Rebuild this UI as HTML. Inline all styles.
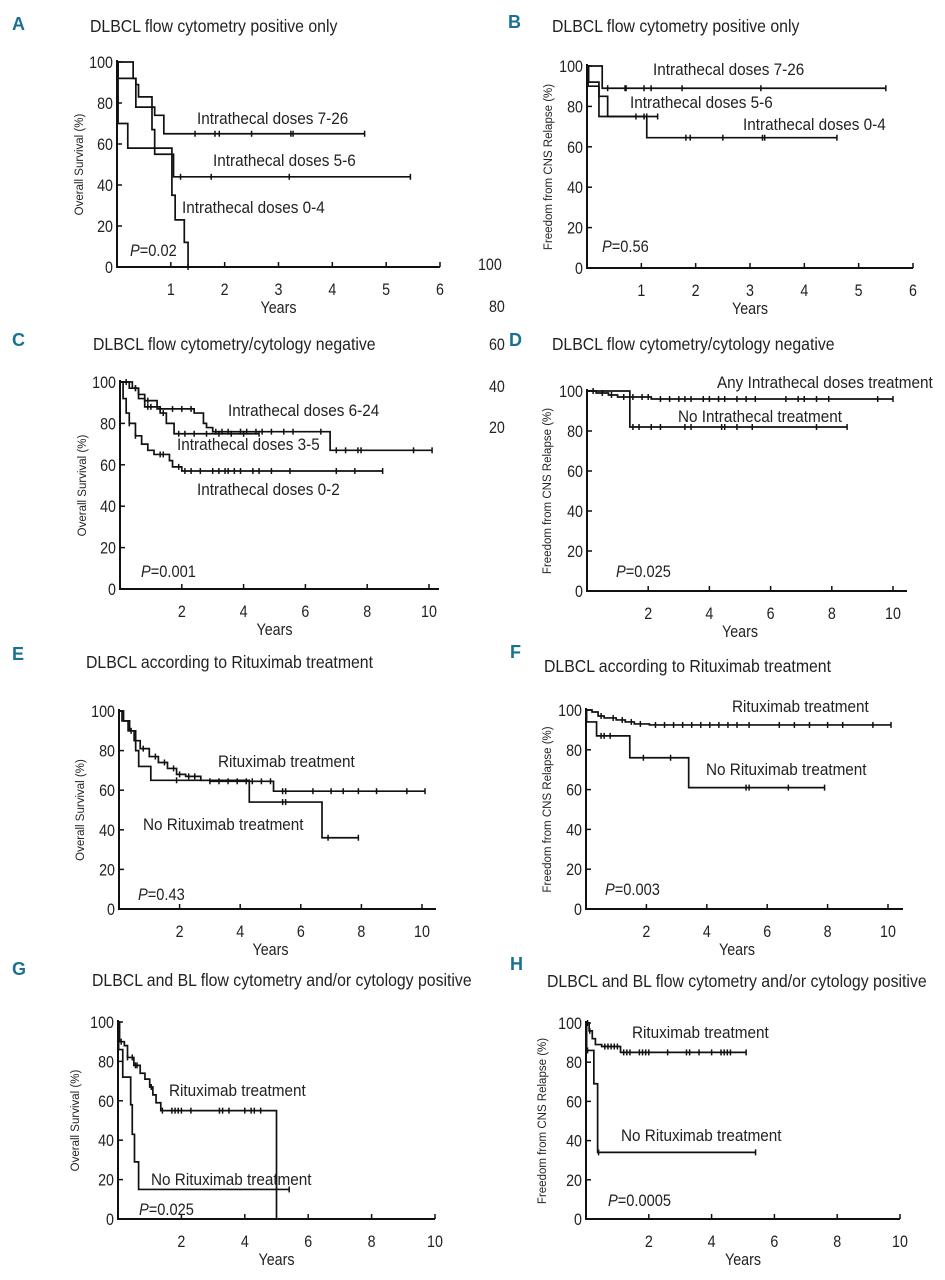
<!DOCTYPE html>
<html><head><meta charset="utf-8"><style>
html,body{margin:0;padding:0;background:#fff;}
svg{display:block;}
text{font-family:"Liberation Sans Narrow","Liberation Sans",sans-serif;fill:#222;}
.letter{font-family:"Liberation Sans",sans-serif;font-weight:bold;fill:#1a7090;font-size:18px;}
.title{font-size:18px;}
.tick{font-size:17px;}
.lab{font-size:17px;}
.yl{font-size:11.5px;font-family:"Liberation Sans",sans-serif;}
</style></head><body>
<svg id="fig" width="945" height="1280" viewBox="0 0 945 1280" xmlns="http://www.w3.org/2000/svg"></svg>
<script>
// ---- data (years, survival %) ----
const yTicks = [0,20,40,60,80,100];
const xTicksA = [1,2,3,4,5,6];
const xTicksC = [2,4,6,8,10];

const aT1 = [0,0.3,0.35,0.4,0.65,0.7,0.87]; const aS1 = [100,92,89,83,78,74,65]; const aC1 = [1.45,1.82,1.9,2.5,3.23,3.27,4.6];
const aT2 = [0,0.02,0.35,0.65,0.7,1.05]; const aS2 = [100,92,78,67,55,44]; const aC2 = [1.18,1.75,3.2,5.45];
const aT3 = [0,0.02,0.2,1.02,1.08,1.25,1.32]; const aS3 = [100,70,58,35,23,12,0]; const aC3 = [1.32];

const bT1 = [0,0.28]; const bS1 = [100,89]; const bC1 = [0.38,0.7,0.72,1.05,1.18,1.75,3.2,5.5];
const bT2 = [0,0.03,0.22,0.38]; const bS2 = [100,92,85,75]; const bC2 = [0.9,1.05,1.1,1.3];
const bT3 = [0,0.02,0.22,1.1]; const bS3 = [100,90,75,64.5]; const bC3 = [1.82,1.9,2.5,3.23,3.27,4.6];

const cT1 = [0,0.4,0.6,0.8,1.2,2.4,2.7,2.8,3.0,6.8]; const cS1 = [100,97,94,91,87,85,80,78,76,67]; const cC1 = [0.5,0.9,1.3,1.7,2.0,2.3,3.1,3.3,3.5,3.9,4.1,4.4,4.6,4.9,5.3,5.6,6.5,7.0,7.3,7.7,7.8,9.5,10.1];
const cT2 = [0,0.3,0.6,0.8,1.3,1.5,1.75]; const cS2 = [100,97,92,88,85,80,75]; const cC2 = [0.2,0.5,0.9,1.0,1.4,1.9,2.1,2.4,2.8,3.2,3.6,4.0,4.5];
const cT3 = [0,0.1,0.2,0.3,0.5,0.7,0.9,1.1,1.6,1.7,2.0]; const cS3 = [100,92,85,80,74,70,67,65,62,59,57]; const cC3 = [0.3,0.5,1.3,1.4,1.9,2.1,2.3,2.6,3.0,3.2,3.4,3.5,3.7,3.9,4.3,4.5,4.9,5.5,7.0,7.6,8.5];

const dT1 = [0,0.3,0.7,1.0,2.1]; const dS1 = [100,99,98,97,96]; const dC1 = [0.2,0.5,0.8,1.2,1.5,1.8,2.0,2.4,2.7,3.0,3.2,3.4,3.8,4.0,4.3,4.5,4.9,5.2,5.5,6.5,6.9,7.1,7.5,7.9,9.5,10.0];
const dT2 = [0,1.4]; const dS2 = [100,82]; const dC2 = [1.5,1.7,2.1,2.4,3.2,3.4,4.4,4.5,4.9,5.4,7.5,8.5];

const eT1 = [0,0.1,0.3,0.5,0.7,1.0,1.3,1.6,1.9,2.2,2.7,3.0,5.1]; const eS1 = [100,95,90,85,81,77,74,71,68,67,65,64.5,59.5]; const eC1 = [0.4,0.8,1.2,1.5,1.8,2.0,2.3,2.5,3.0,3.3,3.6,3.9,4.2,4.4,4.7,5.0,5.4,5.5,6.4,7.0,7.4,7.9,8.5,9.5,10.1];
const eT2 = [0,0.15,0.35,0.55,0.65,1.05,4.3,6.7]; const eS2 = [100,95,90,80,72,65,54,36]; const eC2 = [1.9,5.4,5.5,6.9,7.9];

const fT1 = [0,0.2,0.4,0.6,1.0,1.3,1.6,2.1]; const fS1 = [100,99,97,96,95,94,93,92.5]; const fC1 = [0.5,0.9,1.2,1.5,1.8,2.3,2.6,2.9,3.2,3.5,3.8,4.1,4.4,4.7,5.0,5.4,6.4,6.9,7.4,8.0,8.5,9.5,10.1];
const fT2 = [0,0.02,0.35,1.45,3.4]; const fS2 = [100,94,87,76,61]; const fC2 = [0.5,0.6,0.8,1.9,2.8,5.3,5.4,6.7,7.9];

const gT1 = [0,0.05,0.2,0.3,0.5,0.7,0.85,1.0,1.1,1.2,1.35,5.0]; const gS1 = [100,90,88,82,78,74,71,67,63,59,55,0]; const gC1 = [0.1,0.3,0.45,0.55,0.6,1.05,1.4,1.7,1.8,1.9,2.0,2.3,3.2,3.3,3.5,4.0,4.2,4.3,4.5];
const gT2 = [0,0.02,0.15,0.4,0.45,0.52,0.65]; const gS2 = [100,86,72,58,43,29,15]; const gC2 = [5.4];

const hT1 = [0,0.1,0.2,0.3,0.5,1.1]; const hS1 = [100,96,92,89,88,85]; const hC1 = [0.05,0.12,0.6,0.7,0.8,0.9,1.0,1.2,1.3,1.4,1.7,1.8,1.9,2.0,2.6,3.2,3.3,3.6,4.0,4.3,4.4,4.5,4.6,5.1];
const hT2 = [0,0.02,0.25,0.37]; const hS2 = [100,86,69,34]; const hC2 = [0.05,0.4,5.4];

const svg = document.getElementById('fig');
const NS = 'http://www.w3.org/2000/svg';
function el(tag, attrs, parent){const e=document.createElementNS(NS,tag);for(const k in attrs)e.setAttribute(k,attrs[k]);(parent||svg).appendChild(e);return e;}
function narrow(e,x,f){e.setAttribute('transform',`translate(${x},0) scale(${f},1) translate(${-x},0)`);}
function txt(x,y,s,cls,parent,anchor){const t=el('text',{x:x,y:y,class:cls},parent);if(anchor)t.setAttribute('text-anchor',anchor);t.textContent=s;
  if(cls==='title')narrow(t,x,0.88);else if(cls==='lab')narrow(t,x,0.9);else if(cls==='tick')narrow(t,x,0.84);return t;}
function stepVal(T,S,t){let v=S[0];for(let i=0;i<T.length;i++){if(T[i]<=t)v=S[i];}return v;}

function panel(p){
  const g=el('g',{});
  
  
  const sx=t=>p.x0+(t/p.xmax)*(p.x1-p.x0);
  const sy=v=>p.y0-(v/100)*(p.y0-p.y100);
  const L=txt(p.lx,p.ly,p.letter,'letter',g);
  
  
  const T=txt(p.tx,p.ty,p.title,'title',g);
  
  
  const ax=el('path',{d:`M${p.x0},${p.y100-2}V${p.y0}H${p.xend}`,stroke:'#111','stroke-width':2,fill:'none'},g);
  
  
  yTicks.forEach(v=>{
    el('line',{x1:p.x0,x2:p.x0+5,y1:sy(v),y2:sy(v),stroke:'#111','stroke-width':1.5},g);
    const t=txt(p.x0-4,sy(v)+6,String(v),'tick',g,'end');
    
    
  });
  p.xt.forEach(v=>{
    el('line',{x1:sx(v),x2:sx(v),y1:p.y0,y2:p.y0-5,stroke:'#111','stroke-width':1.5},g);
    const t=txt(sx(v),p.y0+28,String(v),'tick',g,'middle');
    
    
  });
  const xl=txt((p.x0+p.x1)/2,p.y0+46,'Years','tick',g,'middle');
  
  
  const yc=(p.y0+p.y100)/2;
  const yl=txt(p.ylx,yc,p.ylab,'yl',g,'middle');
  yl.setAttribute('transform',`rotate(-90 ${p.ylx} ${yc})`);
  
  
  p.series.forEach((s,i)=>{
    const [Ts,Ss,Cs]=s;
    const end=Math.max(Ts[Ts.length-1],Cs.length?Cs[Cs.length-1]:0);
    let d=`M${sx(0)},${sy(Ss[0])}`;
    for(let k=1;k<Ts.length;k++){d+=`H${sx(Ts[k])}V${sy(Ss[k])}`;}
    d+=`H${sx(end)}`;
    const path=el('path',{d:d,stroke:'#111','stroke-width':1.7,fill:'none'},g);
    
    
    Cs.forEach(c=>{
      const v=stepVal(Ts,Ss,c);
      const m=el('line',{x1:sx(c),x2:sx(c),y1:sy(v)-3,y2:sy(v)+3,stroke:'#111','stroke-width':1.5},g);
      
      
    });
  });
  p.labels.forEach(l=>{
    const t=txt(l[0],l[1],l[2],'lab',g);
    
    
  });
  const pv=el('text',{x:p.px,y:p.py,class:'lab'},g);
  narrow(pv,p.px,0.86);
  
  
  pv.innerHTML='<tspan font-style="italic">P</tspan>='+p.pval;
}
const OS='Overall Survival (%)', FR='Freedom from CNS Relapse (%)';
panel({name:'panel-a',letter:'A',lx:12,ly:30,title:'DLBCL flow cytometry positive only',tx:90,ty:32,x0:117,x1:440,xend:440,xmax:6,y0:267,y100:62,xt:xTicksA,ylab:OS,ylx:83,
 series:[[aT1,aS1,aC1],[aT2,aS2,aC2],[aT3,aS3,aC3]],labels:[[197,124,'Intrathecal doses 7-26'],[213,166,'Intrathecal doses 5-6'],[182,213,'Intrathecal doses 0-4']],px:130,py:256,pval:'0.02'});
panel({name:'panel-b',letter:'B',lx:508,ly:28,title:'DLBCL flow cytometry positive only',tx:552,ty:32,x0:587,x1:913,xend:913,xmax:6,y0:268,y100:66,xt:xTicksA,ylab:FR,ylx:552,
 series:[[bT1,bS1,bC1],[bT2,bS2,bC2],[bT3,bS3,bC3]],labels:[[653,75,'Intrathecal doses 7-26'],[630,108,'Intrathecal doses 5-6'],[743,130,'Intrathecal doses 0-4']],px:602,py:252,pval:'0.56'});
panel({name:'panel-c',letter:'C',lx:12,ly:346,title:'DLBCL flow cytometry/cytology negative',tx:93,ty:350,x0:120,x1:429,xend:439,xmax:10,y0:589,y100:382,xt:xTicksC,ylab:OS,ylx:86,
 series:[[cT1,cS1,cC1],[cT2,cS2,cC2],[cT3,cS3,cC3]],labels:[[228,416,'Intrathecal doses 6-24'],[177,450,'Intrathecal doses 3-5'],[197,495,'Intrathecal doses 0-2']],px:141,py:577,pval:'0.001'});
panel({name:'panel-d',letter:'D',lx:509,ly:346,title:'DLBCL flow cytometry/cytology negative',tx:552,ty:350,x0:587,x1:893,xend:907,xmax:10,y0:591,y100:391,xt:xTicksC,ylab:FR,ylx:551,
 series:[[dT1,dS1,dC1],[dT2,dS2,dC2]],labels:[[717,388,'Any Intrathecal doses treatment'],[678,422,'No Intrathecal treatment']],px:616,py:577,pval:'0.025'});
panel({name:'panel-e',letter:'E',lx:12,ly:660,title:'DLBCL according to Rituximab treatment',tx:86,ty:668,x0:119,x1:422,xend:436,xmax:10,y0:909,y100:711,xt:xTicksC,ylab:OS,ylx:84,
 series:[[eT1,eS1,eC1],[eT2,eS2,eC2]],labels:[[218,767,'Rituximab treatment'],[143,830,'No Rituximab treatment']],px:138,py:900,pval:'0.43'});
panel({name:'panel-f',letter:'F',lx:510,ly:658,title:'DLBCL according to Rituximab treatment',tx:544,ty:672,x0:586,x1:888,xend:903,xmax:10,y0:909,y100:710,xt:xTicksC,ylab:FR,ylx:551,
 series:[[fT1,fS1,fC1],[fT2,fS2,fC2]],labels:[[732,712,'Rituximab treatment'],[706,775,'No Rituximab treatment']],px:605,py:895,pval:'0.003'});
panel({name:'panel-g',letter:'G',lx:12,ly:975,title:'DLBCL and BL flow cytometry and/or cytology positive',tx:92,ty:986,x0:118,x1:435,xend:435,xmax:10,y0:1219,y100:1022,xt:xTicksC,ylab:OS,ylx:79,
 series:[[gT1,gS1,gC1],[gT2,gS2,gC2]],labels:[[169,1096,'Rituximab treatment'],[151,1185,'No Rituximab treatment']],px:139,py:1215,pval:'0.025'});
panel({name:'panel-h',letter:'H',lx:510,ly:970,title:'DLBCL and BL flow cytometry and/or cytology positive',tx:547,ty:987,x0:586,x1:900,xend:900,xmax:10,y0:1219,y100:1023,xt:xTicksC,ylab:FR,ylx:546,
 series:[[hT1,hS1,hC1],[hT2,hS2,hC2]],labels:[[632,1038,'Rituximab treatment'],[621,1141,'No Rituximab treatment']],px:608,py:1206,pval:'0.0005'});

[['100',478,270],['80',489,312],['60',489,350],['40',489,392],['20',489,433]].forEach(a=>{
  const t=txt(a[1],a[2],a[0],'tick');
  
  
});
</script>
</body></html>
